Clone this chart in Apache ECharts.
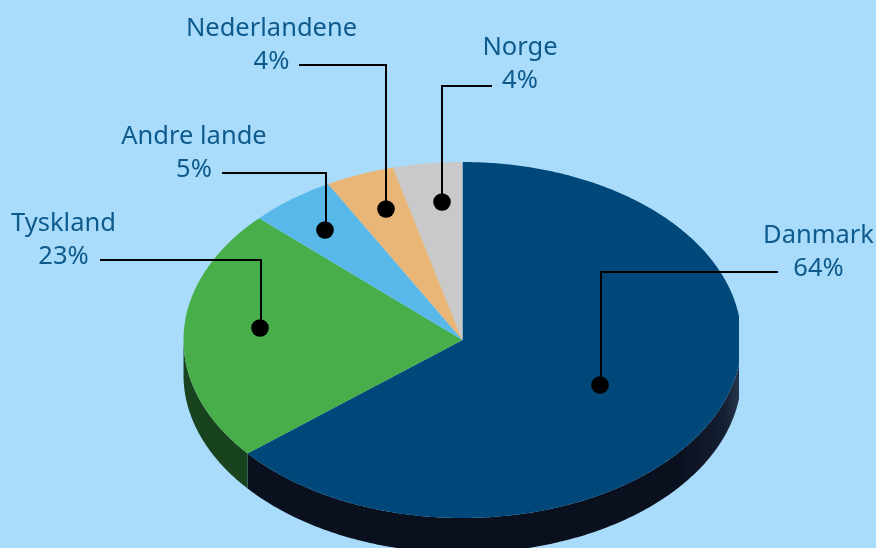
<!DOCTYPE html>
<html><head><meta charset="utf-8">
<style>html,body{margin:0;padding:0;background:#a9dcfa}#c{width:876px;height:548px}</style>
<script src="https://cdn.jsdelivr.net/npm/echarts@6/dist/echarts.min.js"></script>
</head><body><div id="c"></div>
<script>
const categories = ['Danmark', 'Tyskland', 'Andre lande', 'Nederlandene', 'Norge'];
const shares = [64, 23, 5, 4, 4];

const colors = ['#00487a', '#48ae4a', '#58b8ea', '#eab677', '#c9c9c9'];
const sideColors = ['#0a101e', '#19431f', '#2a6a8a', '#8a6a40', '#777777'];
const pie = {cx: 462.5, cy: 340, rx: 279, ry: 178, depth: 35, clipRight: 739};
// annotation layout: text centre, leader start, elbow, dot
const callouts = [
  {text: [818.5, 252], from: [778, 272], elbow: [601, 272], dot: [600, 385]},
  {text: [63.5, 240], from: [100, 260], elbow: [261, 260], dot: [260, 328]},
  {text: [194, 153], from: [222, 173], elbow: [326, 173], dot: [325, 230]},
  {text: [271.5, 45], from: [299, 65], elbow: [386, 65], dot: [386, 209]},
  {text: [520, 64], from: [492, 86], elbow: [442, 86], dot: [442, 202]}
];
const total = shares.reduce((a, b) => a + b, 0);
function startOf(i) { return shares.slice(0, i).reduce((a, b) => a + b, 0) / total * 2 * Math.PI; }
function pt(t, dy) {
  return [Math.min(pie.cx + pie.rx * Math.sin(t), pie.clipRight), pie.cy - pie.ry * Math.cos(t) + (dy || 0)];
}
function arc(a, b, dy) {
  const n = Math.max(2, Math.ceil((b - a) / 0.01)), out = [];
  for (let k = 0; k <= n; k++) out.push(pt(a + (b - a) * k / n, dy));
  return out;
}
function renderSlice(params, api) {
  const i = params.dataIndex;
  const a = startOf(i), b = a + api.value(0) / total * 2 * Math.PI;
  const children = [];
  const s0 = Math.max(a, Math.PI / 2), s1 = Math.min(b, 1.5 * Math.PI);
  if (s1 > s0) {
    const fill = i === 0
      ? new echarts.graphic.LinearGradient(0, 0, 1, 0, [
          {offset: 0, color: '#0a101e'}, {offset: 0.88, color: '#0a101e'},
          {offset: 0.97, color: '#151f32'}, {offset: 1, color: '#26364c'}])
      : sideColors[i];
    children.push({
      type: 'polygon',
      shape: {points: arc(s0, s1, 0).concat(arc(s0, s1, pie.depth).reverse())},
      style: {fill: fill}
    });
  }
  children.push({
    type: 'polygon',
    shape: {points: [[pie.cx, pie.cy]].concat(arc(a, b, 0))},
    style: {fill: colors[i]}
  });
  return {type: 'group', children: children};
}
function renderCallout(params, api) {
  const i = params.dataIndex, c = callouts[i];
  return {type: 'group', children: [
    {type: 'polyline', shape: {points: [c.from, c.elbow, [c.elbow[0], c.dot[1]]]},
     style: {stroke: '#000', lineWidth: 2, fill: null}},
    {type: 'circle', shape: {cx: c.dot[0], cy: c.dot[1], r: 8.8}, style: {fill: '#000'}},
    {type: 'text', x: c.text[0], y: c.text[1], style: {
      text: categories[i] + '\n' + api.value(0) + '%',
      fontFamily: '"Noto Sans"', fontSize: 25.5, lineHeight: 33,
      fill: '#0e5a8c', align: 'center', verticalAlign: 'middle'}}
  ]};
}
const chart = echarts.init(document.getElementById('c'), null, {renderer: 'canvas'});
chart.setOption({
  backgroundColor: '#a9dcfa',
  animation: false,
  series: [
    {type: 'custom', coordinateSystem: 'none', silent: true, z: 1, clip: false, data: shares, renderItem: renderSlice},
    {type: 'custom', coordinateSystem: 'none', silent: true, z: 2, clip: false, data: shares, renderItem: renderCallout}
  ]
});
</script></body></html>
